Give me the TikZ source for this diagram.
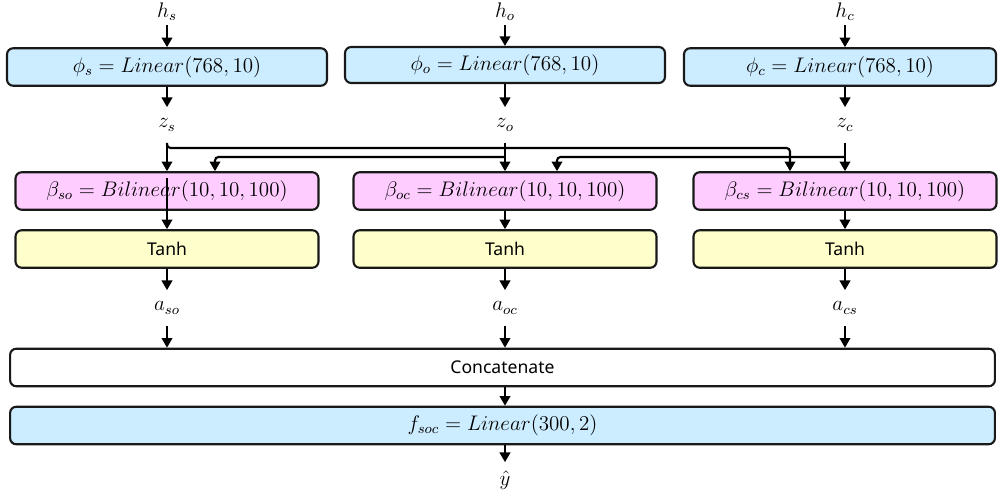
\documentclass[tikz,border=0pt]{standalone}
\usepackage{fontspec}
\setsansfont{Noto Sans}
\usetikzlibrary{arrows.meta,positioning}
\definecolor{linblue}{HTML}{CCECFF}
\definecolor{bilpink}{HTML}{FFCCFF}
\definecolor{tanhyellow}{HTML}{FFFFCC}

\begin{document}
\begin{tikzpicture}[
		x=0.02cm, y=-0.02cm,
		block/.style={
			draw=black!90,
			line width=1.2pt,
			rounded corners=3.5pt,
			minimum height=0.75cm,
			inner sep=0pt,
		},
		linear/.style={block, fill=linblue, minimum width=6.4cm},
		bilinear/.style={block, fill=bilpink, minimum width=6.06cm},
		act/.style={block, fill=tanhyellow, minimum width=6.06cm, font=\sffamily\fontsize{10}{12}\selectfont},
		wide/.style={block, minimum width=19.7cm},
		var/.style={minimum height=0.7cm, inner sep=0pt},
		arr/.style={->, line width=1.2pt},
		font=\fontsize{11.6}{14}\selectfont,
		>={Triangle[width=6pt,length=5.5pt]}
		]
		\useasboundingbox (0,0) rectangle (998,499);
		% Draw the hidden states
		\foreach \c/\x in {s/167,o/505,c/845} {
			\node [var,minimum height=0.52cm] (h\c) at (\x,12) {$h_\c$};
			\node [var] (z\c) at (\x,125) {$z_\c$};
		}
		% Draw the linear projections
		\node [linear] (phis) at (167,67) {$\phi_s = Linear(768,10)$};
		\node [linear,minimum height=0.72cm] (phio) at (505,65) {$\phi_o = Linear(768,10)$};
		\node [linear,minimum width=6.24cm] (phic) at (840,67) {$\phi_c = Linear(768,10)$};
		\draw[arr] (hs) -- (phis);
		\draw[arr] (ho) -- (phio);
		\draw[arr] (hc) -- (hc |- phic.north);
		\draw[arr] (phis) -- (zs);
		\draw[arr] (phio) -- (zo);
		\draw[arr] (phic.south -| zc) -- (zc);
		% Draw the bilinear pairs and activations
		\foreach \c/\x in {so/167,oc/505,cs/845} {
			\node [bilinear] (beta\c) at (\x,191) {$\beta_{\c} = Bilinear(10,10,100)$};
			\node [act] (tanh\c) at (\x,249) {Tanh};
			\node [var] (a\c) at (\x,308) {$a_{\c}$};
		}
		% Draw the crossing inputs
		\coordinate (bus1) at (0,148);
		\coordinate (bus2) at (0,157);
		\path (betaso.north) ++(48,0) coordinate (so2);
		\path (betaoc.north) ++(52,0) coordinate (oc2);
		\path (betacs.north) ++(-55,0) coordinate (cs1);
		\foreach \z/\b in {s/so,o/oc,c/cs} {
			\draw[arr] (z\z) -- (beta\b);
		}
		\draw[arr,rounded corners=2pt] (zs.south) |- (cs1 |- bus1) -- (cs1);
		\draw[arr,rounded corners=2pt] (zo.south |- bus2) -| (so2);
		\draw[arr,rounded corners=2pt] (zc.south |- bus2) -| (oc2);
		% Draw the concatenation and the classifier
		\node [wide] (concat) at (502.5,367.5) {\sffamily\fontsize{10}{12}\selectfont Concatenate};
		\node [wide,fill=linblue] (fsoc) at (502.5,425.5) {$f_{soc} = Linear(300,2)$};
		\node [var] (yhat) at (505,480) {$\hat{y}$};
		\draw[arr] ([yshift=-0.14cm]betaso.north) -- (tanhso);
		\draw[arr] (betaoc) -- (tanhoc);
		\draw[arr] (betacs) -- (tanhcs);
		\foreach \c in {so,oc,cs} {
			\draw[arr] (tanh\c) -- (a\c);
			\draw[arr] (a\c) -- (a\c |- concat.north);
		}
		\draw[arr] (concat.south -| aoc) -- (fsoc.north -| aoc);
		\draw[arr] (fsoc.south -| yhat) -- (yhat);
	\end{tikzpicture}
\end{document}
